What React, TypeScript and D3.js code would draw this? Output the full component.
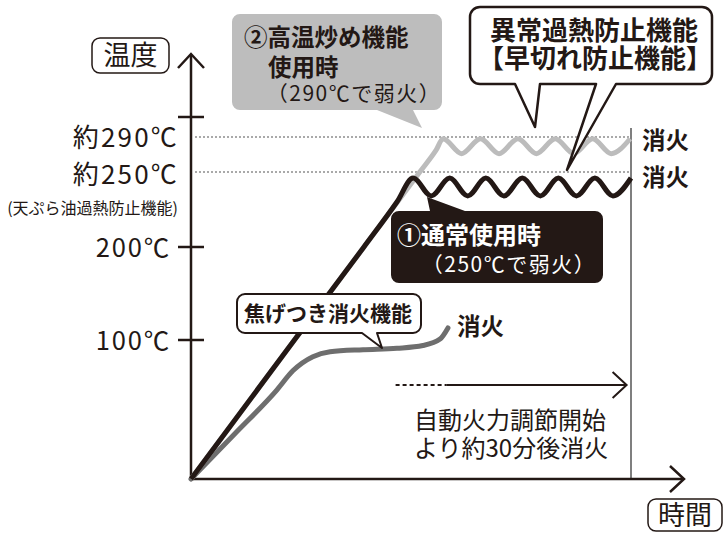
import React from "react";
import * as d3 from "d3";

const FONT = "'Noto Sans CJK JP', 'Noto Sans', sans-serif";

// 温度軸の目盛り
const tempTicks = [300, 200, 100];
const tempTickLabels = ["", "200℃", "100℃"];
// 点線の温度
const refTemps = [290, 250];
const refLabels = ["約290℃", "約250℃"];
const refNote = "(天ぷら油過熱防止機能)";

// ①通常使用時（250℃で弱火）: 時間, 温度
const normalTime = [0, 23.5, 39.3, 46.8, 50.5, 54.6, 58.8, 62.9, 67, 71.1, 75.3, 79.4, 83.5, 87.6, 91.8, 95.9, 100];
const normalTemp = [0, 100, 200, 230, 246, 234, 246, 234, 246, 234, 246, 234, 246, 234, 246, 234, 246];

// ②高温炒め機能使用時（290℃で弱火）
const highTime = [0, 23.5, 39.3, 52, 55.7, 57.3, 61.5, 65.8, 70, 74.3, 78.5, 82.8, 87, 91.3, 95.5, 99.8];
const highTemp = [0, 100, 200, 250, 275, 288, 271, 288, 271, 288, 271, 288, 271, 288, 271, 288];

// 焦げつき消火機能
const scorchTime = [0, 9.8, 19.5, 23.2, 27.7, 31.6, 39.1, 46.8, 52.7, 56.6, 58.4];
const scorchTemp = [0, 32, 64, 78, 88, 91.5, 93, 94, 96, 101, 113];

// 消火と自動火力調節の時刻
const offTime = 100;
const autoStart = 46.5;
const autoDashEnd = 58;
const autoEnd = 99;

const x = d3.scaleLinear().domain([0, 100]).range([191, 631]);
const y = d3
  .scaleLinear()
  .domain([0, 100, 200, 250, 290, 300])
  .range([479, 340, 247, 172, 137, 117]);

const line = d3
  .line<[number, number]>()
  .x(d => x(d[0]))
  .y(d => y(d[1]))
  .curve(d3.curveMonotoneX);

const zip = (t: number[], v: number[]) => t.map((d, i) => [d, v[i]] as [number, number]);

type Tail = { edge: "top" | "bottom"; a: number; b: number; tx: number; ty: number };

// 吹き出しの輪郭
function bubble(x0: number, y0: number, x1: number, y1: number, r: number, tails: Tail[]) {
  const p = d3.path();
  p.moveTo(x0 + r, y0);
  tails
    .filter(t => t.edge === "top")
    .sort((m, n) => m.a - n.a)
    .forEach(t => {
      p.lineTo(t.a, y0);
      p.lineTo(t.tx, t.ty);
      p.lineTo(t.b, y0);
    });
  p.lineTo(x1 - r, y0);
  p.arcTo(x1, y0, x1, y0 + r, r);
  p.lineTo(x1, y1 - r);
  p.arcTo(x1, y1, x1 - r, y1, r);
  tails
    .filter(t => t.edge === "bottom")
    .sort((m, n) => n.b - m.b)
    .forEach(t => {
      p.lineTo(t.b, y1);
      p.lineTo(t.tx, t.ty);
      p.lineTo(t.a, y1);
    });
  p.lineTo(x0 + r, y1);
  p.arcTo(x0, y1, x0, y1 - r, r);
  p.lineTo(x0, y0 + r);
  p.arcTo(x0, y0, x0 + r, y0, r);
  p.closePath();
  return p.toString();
}

const BLACK = "#231815";

export default function App() {
  const axisX = x.range()[0];
  const axisY = y(0);
  const arrowY = 385;

  return (
    <svg
      width={727}
      height={533}
      style={{ position: "absolute", left: 0, top: 0, background: "#fff" }}
      fontFamily={FONT}
    >
      {/* 点線 */}
      {refTemps.map((t, i) => (
        <g key={t}>
          <line
            x1={axisX + 4}
            x2={x(offTime)}
            y1={y(t)}
            y2={y(t)}
            stroke="#555"
            strokeWidth={1.2}
            strokeDasharray="2,2"
          />
          <text x={179} y={y(t) + (i === 0 ? 10 : 12)} fontSize={26} textAnchor="end" letterSpacing={2.2} fill={BLACK}>
            {refLabels[i]}
          </text>
        </g>
      ))}
      <text x={178} y={214} fontSize={16} textAnchor="end" fill={BLACK}>
        {refNote}
      </text>

      {/* 消火の縦線 */}
      <line x1={x(offTime)} x2={x(offTime)} y1={128} y2={axisY} stroke="#555" strokeWidth={1.5} />

      {/* 軸 */}
      <line x1={axisX} x2={axisX} y1={axisY} y2={55} stroke={BLACK} strokeWidth={2.5} />
      <polyline points={`${axisX - 13},68 ${axisX},54 ${axisX + 13},68`} fill="none" stroke={BLACK} strokeWidth={2.5} />
      <line x1={axisX} x2={683} y1={axisY} y2={axisY} stroke={BLACK} strokeWidth={2.5} />
      <polyline points={`670,${axisY - 13} 684,${axisY} 670,${axisY + 13}`} fill="none" stroke={BLACK} strokeWidth={2.5} />
      {tempTicks.map((t, i) => (
        <g key={t}>
          <line x1={axisX - 13} x2={axisX + 13} y1={y(t)} y2={y(t)} stroke={BLACK} strokeWidth={2.5} />
          <text x={171} y={y(t) + 10} fontSize={25.5} textAnchor="end" letterSpacing={1.8} fill={BLACK}>
            {tempTickLabels[i]}
          </text>
        </g>
      ))}

      {/* 軸ラベル */}
      <rect x={92} y={38} width={77} height={35} rx={8} fill="#fff" stroke={BLACK} strokeWidth={1.5} />
      <text x={130.5} y={65} fontSize={27} textAnchor="middle" fill={BLACK}>温度</text>
      <rect x={648} y={499} width={74} height={32} rx={8} fill="#fff" stroke={BLACK} strokeWidth={1.5} />
      <text x={685} y={525} fontSize={27} textAnchor="middle" fill={BLACK}>時間</text>

      {/* 曲線 */}
      <path d={line(zip(scorchTime, scorchTemp)) || ""} fill="none" stroke="#6e6e6e" strokeWidth={5} strokeLinecap="round" />
      <path d={line(zip(highTime, highTemp)) || ""} fill="none" stroke="#bcbcbc" strokeWidth={5} />
      <path d={line(zip(normalTime, normalTemp)) || ""} fill="none" stroke={BLACK} strokeWidth={5} />

      {/* 消火ラベル */}
      <text x={642} y={149} fontSize={23.5} fontWeight="bold" fill={BLACK}>消火</text>
      <text x={642} y={186} fontSize={23.5} fontWeight="bold" fill={BLACK}>消火</text>
      <text x={457} y={335} fontSize={23.5} fontWeight="bold" fill={BLACK}>消火</text>

      {/* 自動火力調節 */}
      <line x1={x(autoStart)} x2={x(autoDashEnd)} y1={arrowY} y2={arrowY} stroke={BLACK} strokeWidth={2} strokeDasharray="4,3" />
      <line x1={x(autoDashEnd)} x2={x(autoEnd)} y1={arrowY} y2={arrowY} stroke={BLACK} strokeWidth={2} />
      <polyline
        points={`${x(autoEnd) - 14},${arrowY - 13} ${x(autoEnd)},${arrowY} ${x(autoEnd) - 14},${arrowY + 13}`}
        fill="none"
        stroke={BLACK}
        strokeWidth={2}
      />
      <text x={414} y={429} fontSize={24} fill={BLACK}>自動火力調節開始</text>
      <text x={414} y={457} fontSize={24} fill={BLACK}>より約30分後消火</text>

      {/* ②高温炒め機能 */}
      <path
        d={bubble(232, 14, 442, 110, 8, [{ edge: "bottom", a: 377, b: 413, tx: 422, ty: 128 }])}
        fill="#bdbdbd"
      />
      <text x={244} y={46} fontSize={23.5} fontWeight="bold" fill={BLACK}>②高温炒め機能</text>
      <text x={268} y={76} fontSize={23.5} fontWeight="bold" fill={BLACK}>使用時</text>
      <text x={354} y={101} fontSize={21} textAnchor="middle" letterSpacing={1.5} fill={BLACK}>（290℃で弱火）</text>

      {/* 異常過熱防止機能 */}
      <path
        d={bubble(470, 7, 712, 84, 10, [
          { edge: "bottom", a: 515, b: 540, tx: 535, ty: 127 },
          { edge: "bottom", a: 596, b: 616, tx: 567, ty: 170 },
        ])}
        fill="#fff"
        stroke={BLACK}
        strokeWidth={2.5}
        strokeLinejoin="round"
      />
      <text x={594} y={40} fontSize={26} fontWeight="bold" textAnchor="middle" fill={BLACK}>異常過熱防止機能</text>
      <text x={595} y={68} fontSize={26} fontWeight="bold" textAnchor="middle" fill={BLACK}>【早切れ防止機能】</text>

      {/* ①通常使用時 */}
      <path
        d={bubble(391, 211, 603, 283, 8, [{ edge: "top", a: 430, b: 465, tx: 427, ty: 197 }])}
        fill={BLACK}
      />
      <text x={397} y={244} fontSize={24} fontWeight="bold" fill="#fff">①通常使用時</text>
      <text x={509} y={272} fontSize={21} textAnchor="middle" letterSpacing={1.5} fill="#fff">（250℃で弱火）</text>

      {/* 焦げつき消火機能 */}
      <path
        d={bubble(237, 294, 421, 333, 8, [{ edge: "bottom", a: 362, b: 377, tx: 382, ty: 348 }])}
        fill="#fff"
        stroke={BLACK}
        strokeWidth={2}
        strokeLinejoin="round"
      />
      <text x={328} y={321} fontSize={21} fontWeight="bold" textAnchor="middle" fill={BLACK}>焦げつき消火機能</text>
    </svg>
  );
}
